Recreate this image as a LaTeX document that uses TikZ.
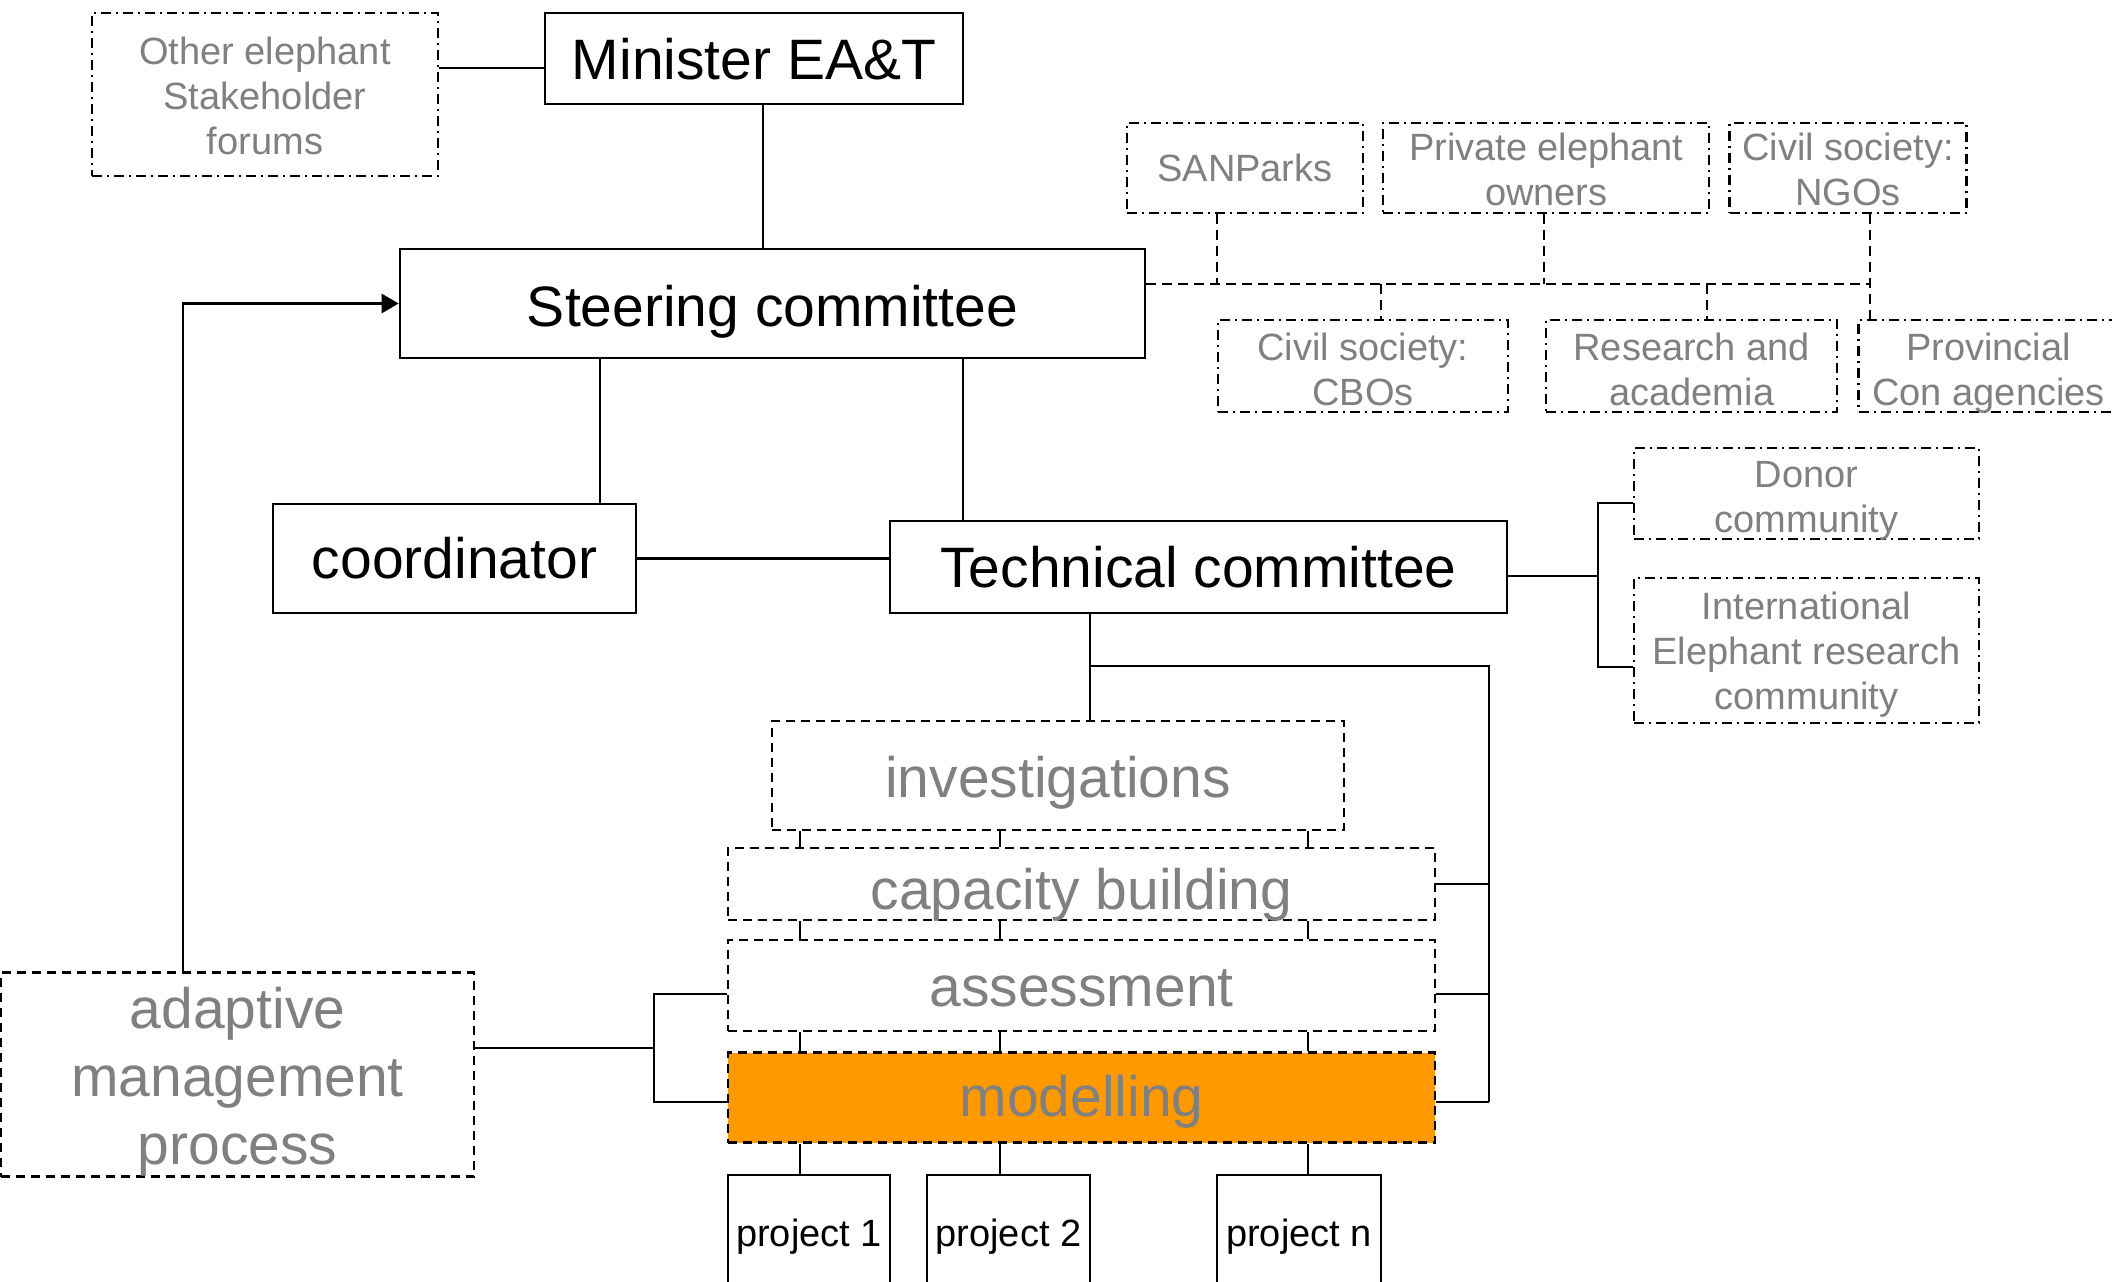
\documentclass[tikz,border=0pt]{standalone}
\usepackage{fontspec}
\setmainfont{Liberation Sans}
\usetikzlibrary{arrows.meta,positioning,calc}
\definecolor{txtgray}{RGB}{128,128,128}
\definecolor{modorange}{RGB}{255,153,0}
% set a label a little lower in its box
\newcommand{\lowered}[2]{\raisebox{-#1}[\height][\depth]{\begin{tabular}{@{}c@{}}#2\end{tabular}}}

\begin{document}
\begin{tikzpicture}[x=1pt, y=-1pt, node distance=18pt,
    block/.style={rectangle, draw, line width=2.6pt, inner sep=0pt, align=center,
    font=\fontsize{57}{64}\selectfont},
    stake/.style={rectangle, draw, line width=2.3pt, dash pattern=on 10pt off 5pt on 2pt off 5pt,
    inner sep=0pt, align=center, text=txtgray, font=\fontsize{38}{45}\selectfont},
    layer/.style={rectangle, draw, line width=2.3pt, dash pattern=on 9pt off 6pt,
    inner sep=0pt, align=center, text=txtgray, font=\fontsize{57}{68}\selectfont},
    project/.style={block, font=\fontsize{38}{45}\selectfont, minimum height=116pt},
    link/.style={line width=2.7pt},
    bus/.style={line width=2.3pt, dash pattern=on 10pt off 6pt},
    arrow/.style={link, -{Triangle[length=17pt, width=19pt]}}]

    \fill[white] (0,0) rectangle (2112,1282);
    \useasboundingbox (0,0) rectangle (2112,1282);

    % Top of the hierarchy
    \node[block, minimum width=418pt, minimum height=91pt] (minister) at (754,58.5)
        {\lowered{8.5pt}{Minister EA\&T}};
    \node[stake, minimum width=346pt, minimum height=163pt] (forums) at (265,94.5)
        {\lowered{6pt}{Other elephant\\Stakeholder\\forums}};
    \node[block, minimum width=745pt, minimum height=109pt] (steering) at (772.5,303.5)
        {\lowered{10.5pt}{Steering committee}};
    \node[block, minimum width=363pt, minimum height=109pt] (coord) at (454.5,558.5) {coordinator};
    \node[block, minimum width=617pt, minimum height=92pt] (tech) at (1198.5,567) {Technical committee};

    % Stakeholders round the steering committee
    \node[stake, minimum width=236pt, minimum height=90pt] (sanparks) at (1245,168) {SANParks};
    \node[stake, minimum width=326pt, minimum height=90pt, right=of sanparks] (private)
        {\lowered{6pt}{Private elephant\\owners}};
    \node[stake, minimum width=237pt, minimum height=90pt, right=of private] (ngos)
        {\lowered{6pt}{Civil society:\\NGOs}};
    \node[stake, minimum width=290pt, minimum height=92pt] (cbos) at (1363,366)
        {\lowered{8pt}{Civil society:\\CBOs}};
    \node[stake, minimum width=291pt, minimum height=92pt, right=36pt of cbos] (research)
        {\lowered{7.5pt}{Research and\\academia}};
    \node[stake, minimum width=260pt, minimum height=92pt, right=19pt of research] (provincial)
        {\lowered{7.5pt}{Provincial\\Con agencies}};

    % Partners of the technical committee
    \node[stake, minimum width=345pt, minimum height=91pt] (donor) at (1806.5,493.5)
        {\lowered{7pt}{Donor\\community}};
    \node[stake, minimum width=345pt, minimum height=145pt, below=37pt of donor] (intl)
        {\lowered{5pt}{International\\Elephant research\\community}};

    % Work streams
    \node[layer, minimum width=572pt, minimum height=109pt] (inv) at (1058,775.5)
        {\lowered{8.5pt}{investigations}};
    \node[layer, minimum width=707pt, minimum height=72pt] (cap) at (1081.5,884)
        {\lowered{11.5pt}{capacity building}};
    \node[layer, minimum width=707pt, minimum height=91pt, below=of cap] (assess)
        {\lowered{7pt}{assessment}};
    \node[layer, fill=modorange, minimum width=707pt, minimum height=90pt, below=19pt of assess] (model)
        {\lowered{5.5pt}{modelling}};
    \node[layer, minimum width=473pt, minimum height=199pt] (adaptive) at (237.5,1074.5)
        {\lowered{8.5pt}{adaptive\\management\\process}};

    % Projects
    \node[project, minimum width=162pt] (proj1) at (809,1233) {\lowered{4pt}{project 1}};
    \node[project, minimum width=163pt] (proj2) at (1008.5,1233) {\lowered{4pt}{project 2}};
    \node[project, minimum width=164pt] (projn) at (1299,1233) {\lowered{4pt}{project n}};

    % Links of the hierarchy
    \draw[link] (forums.east |- 0,68) -- (minister.west |- 0,68);
    \draw[link] (minister.south -| 763,0) -- (steering.north -| 763,0);
    \draw[link] (steering.south -| 600,0) -- (coord.north -| 600,0);
    \draw[link] (steering.south -| 963,0) -- (tech.north -| 963,0);
    \draw[link] (coord.east) -- (coord.east -| tech.west);

    % Stakeholder bus
    \draw[bus] (steering.east |- 0,284) -- (1870,284);
    \foreach \n/\x in {sanparks/1217, private/1544}
        \draw[bus] (\n.south -| \x,0) -- (\x,284);
    \draw[bus] (ngos.south -| 1870,0) -- (provincial.north -| 1870,0);
    \foreach \n/\x in {cbos/1381, research/1707}
        \draw[bus] (\x,284) -- (\n.north -| \x,0);

    % Technical committee partners
    \draw[link] (tech.east |- 0,576) -- (1598,576);
    \draw[link] (donor.west |- 0,503) -| (1598,667) -- (intl.west |- 0,667);

    % Technical committee to the work streams
    \draw[link] (tech.south -| 1090,0) -- (inv.north -| 1090,0);
    \draw[link] (1090,666) -| (1489,1102);
    \foreach \n/\y in {cap/884, assess/994, model/1102}
        \draw[link] (\n.east |- 0,\y) -- (1489,\y);

    % Stack of work streams and projects
    \foreach \x in {800,1000,1308} {
        \draw[link] (inv.south -| \x,0) -- (cap.north -| \x,0);
        \draw[link] (cap.south -| \x,0) -- (assess.north -| \x,0);
        \draw[link] (assess.south -| \x,0) -- (model.north -| \x,0);
    }
    \foreach \p/\x in {proj1/800, proj2/1000, projn/1308}
        \draw[link] (model.south -| \x,0) -- (\p.north -| \x,0);

    % Adaptive management loop
    \draw[link] (adaptive.east |- 0,1048) -- (654,1048);
    \draw[link] (assess.west |- 0,994) -| (654,1102) -- (model.west |- 0,1102);
    \draw[arrow] (adaptive.north -| 183,0) |- (steering.west);
\end{tikzpicture}
\end{document}
